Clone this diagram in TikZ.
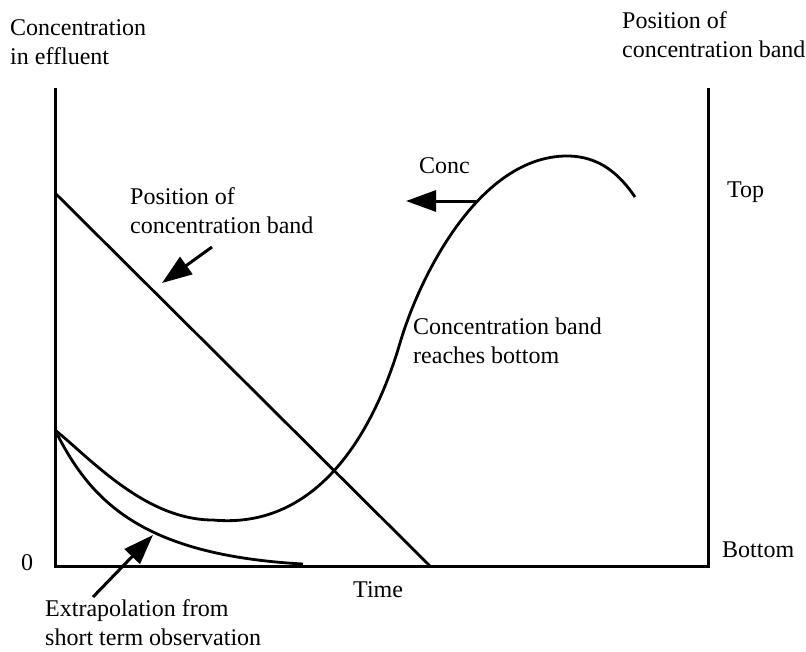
\documentclass[tikz,border=0pt]{standalone}
\usepackage{fontspec}
\setmainfont{Liberation Serif}
\usetikzlibrary{arrows.meta,positioning}
\tikzset{
  lbl/.style={font=\fontsize{24}{29}\selectfont, inner sep=0pt, align=left, anchor=base west},
  axisline/.style={line width=3pt},
  trace/.style={line width=2.8pt, line join=round},
  pointer/.style={line width=3pt, -{Triangle[length=30pt,width=21pt]}}
}
\begin{document}
\begin{tikzpicture}[x=1pt,y=-1pt]
\useasboundingbox (0,0) rectangle (806,651);
% axes
\draw[axisline] (55,88) -- (55,566) -- (708,566) -- (708,88);
% labels (multi-line ones sit on their last baseline)
\node[lbl] (ylab) at (10,64) {Concentration\\in effluent};
\node[lbl] (rlab) at (622,57) {Position of\\concentration band};
\node[lbl] (top) at (727,197) {Top};
\node[lbl] (bottom) at (722,557) {Bottom};
\node[lbl] (zero) at (21,570) {0};
\node[lbl] (time) at (353,597) {Time};
\node[lbl] (bandlab) at (130,233) {Position of\\concentration band};
\node[lbl] (conc) at (419,173) {Conc};
\node[lbl] (reach) at (413,363) {Concentration band\\reaches bottom};
\node[lbl] (extra) at (45,645) {Extrapolation from\\short term observation};
% band position
\draw[trace] (55,193) -- (430,566);
% concentration curve
\draw[trace] (55,430) .. controls (90,458) and (145,520) .. (213,520)
  .. controls (320,530) and (375,428) .. (400,343)
  .. controls (420,275) and (480,156) .. (567,156)
  .. controls (600,156) and (620,175) .. (635,197);
% extrapolation
\draw[trace] (55,430) .. controls (90,500) and (140,555) .. (303,564);
% pointers
\coordinate (concfrom) at (476,201);
\coordinate (concto) at (406,201);
\coordinate (bandfrom) at (212,247);
\coordinate (bandto) at (162,283);
\coordinate (extfrom) at (93,597);
\coordinate (extto) at (153,535);
\draw[pointer] (concfrom) -- (concto);
\draw[pointer] (bandfrom) -- (bandto);
\draw[pointer] (extfrom) -- (extto);
\end{tikzpicture}
\end{document}
